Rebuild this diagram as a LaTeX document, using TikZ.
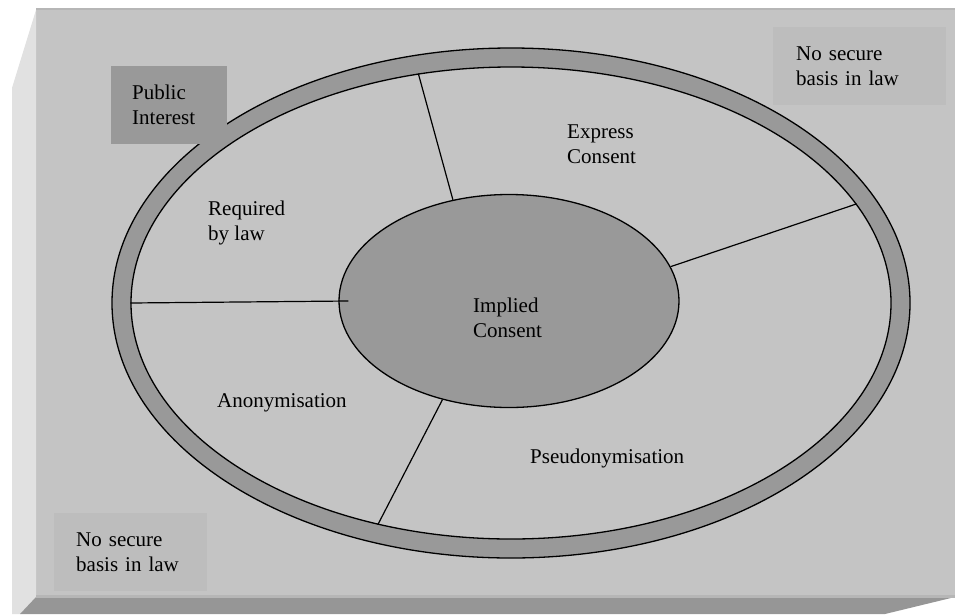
\documentclass[tikz,border=0pt]{standalone}
\usepackage{fontspec}
\setmainfont{Liberation Serif}
\usetikzlibrary{shapes.geometric}

\definecolor{facegrey}{HTML}{C4C4C4}
\definecolor{bandgrey}{HTML}{999999}
\definecolor{basisgrey}{HTML}{BDBDBD}
\definecolor{sidegrey}{HTML}{E1E1E1}
\definecolor{bottomgrey}{HTML}{969696}
\definecolor{edgegrey}{HTML}{B6B6B6}

\begin{document}
\begin{tikzpicture}[x=1pt,y=-1pt,font=\fontsize{21}{25}\selectfont]
	\tikzstyle{band}=[ellipse,draw=black,line width=1.3pt,fill=bandgrey,inner sep=0pt]
	\tikzstyle{field}=[ellipse,draw=black,line width=1.3pt,fill=facegrey,inner sep=0pt]
	\tikzstyle{basis}=[fill=basisgrey,anchor=north west,align=left,inner ysep=0pt,minimum height=78pt]
	\tikzstyle{region}=[anchor=base west,align=left,inner sep=0pt]
	\tikzstyle{spoke}=[draw=black,line width=1.2pt]

	\useasboundingbox (0,0) rectangle (955,614);
	% raised panel
	\fill[white] (0,0) rectangle (955,614);
	\fill[facegrey] (36,10) rectangle (955,597);
	\fill[edgegrey] (36,8) rectangle (955,10);
	\fill[sidegrey] (12,88) -- (36,10) -- (36,597) -- (20,614) -- (12,614) -- cycle;
	\fill[bottomgrey] (36,597) -- (955,597) -- (885,614) -- (20,614) -- cycle;
	\fill[edgegrey] (36,595) rectangle (955,598);

	% rings
	\node[band,minimum width=798pt,minimum height=510pt] (OUTER) at (511,303) {};
	\node[field,minimum width=760pt,minimum height=472pt] (RING) at (511,303) {};
	\node[band,minimum width=340pt,minimum height=213pt] (CORE) at (509,301) {};

	\path[spoke] (RING.112.8) -- (CORE.119.2)
				(CORE.12.9) -- (RING.16.4)
				(RING.west) -- ([xshift=10pt]CORE.west)
				(CORE.236.6) -- (RING.239.4);

	% boxes in the corners
	\node[basis,fill=bandgrey,minimum width=116pt,text width=74pt,inner xsep=21pt] (PUBLIC) at (111,66) {Public\\Interest};
	\node[basis,minimum width=173pt,text width=127pt,inner xsep=23pt] (NOBASIS_TR) at (773,27) {No secure\\basis in law};
	\node[basis,minimum width=153pt,text width=109pt,inner xsep=22pt] (NOBASIS_BL) at (54,513) {No secure\\basis in law};

	% regions (base = last line)
	\node[region] (EXPRESS) at (567,163) {Express\\Consent};
	\node[region] (REQUIRED) at (208,240) {Required\\by law};
	\node[region] (IMPLIED) at (473,337) {Implied\\Consent};
	\node[region] (ANON) at (217,407) {Anonymisation};
	\node[region] (PSEUDO) at (530,463) {Pseudonymisation};
\end{tikzpicture}
\end{document}
